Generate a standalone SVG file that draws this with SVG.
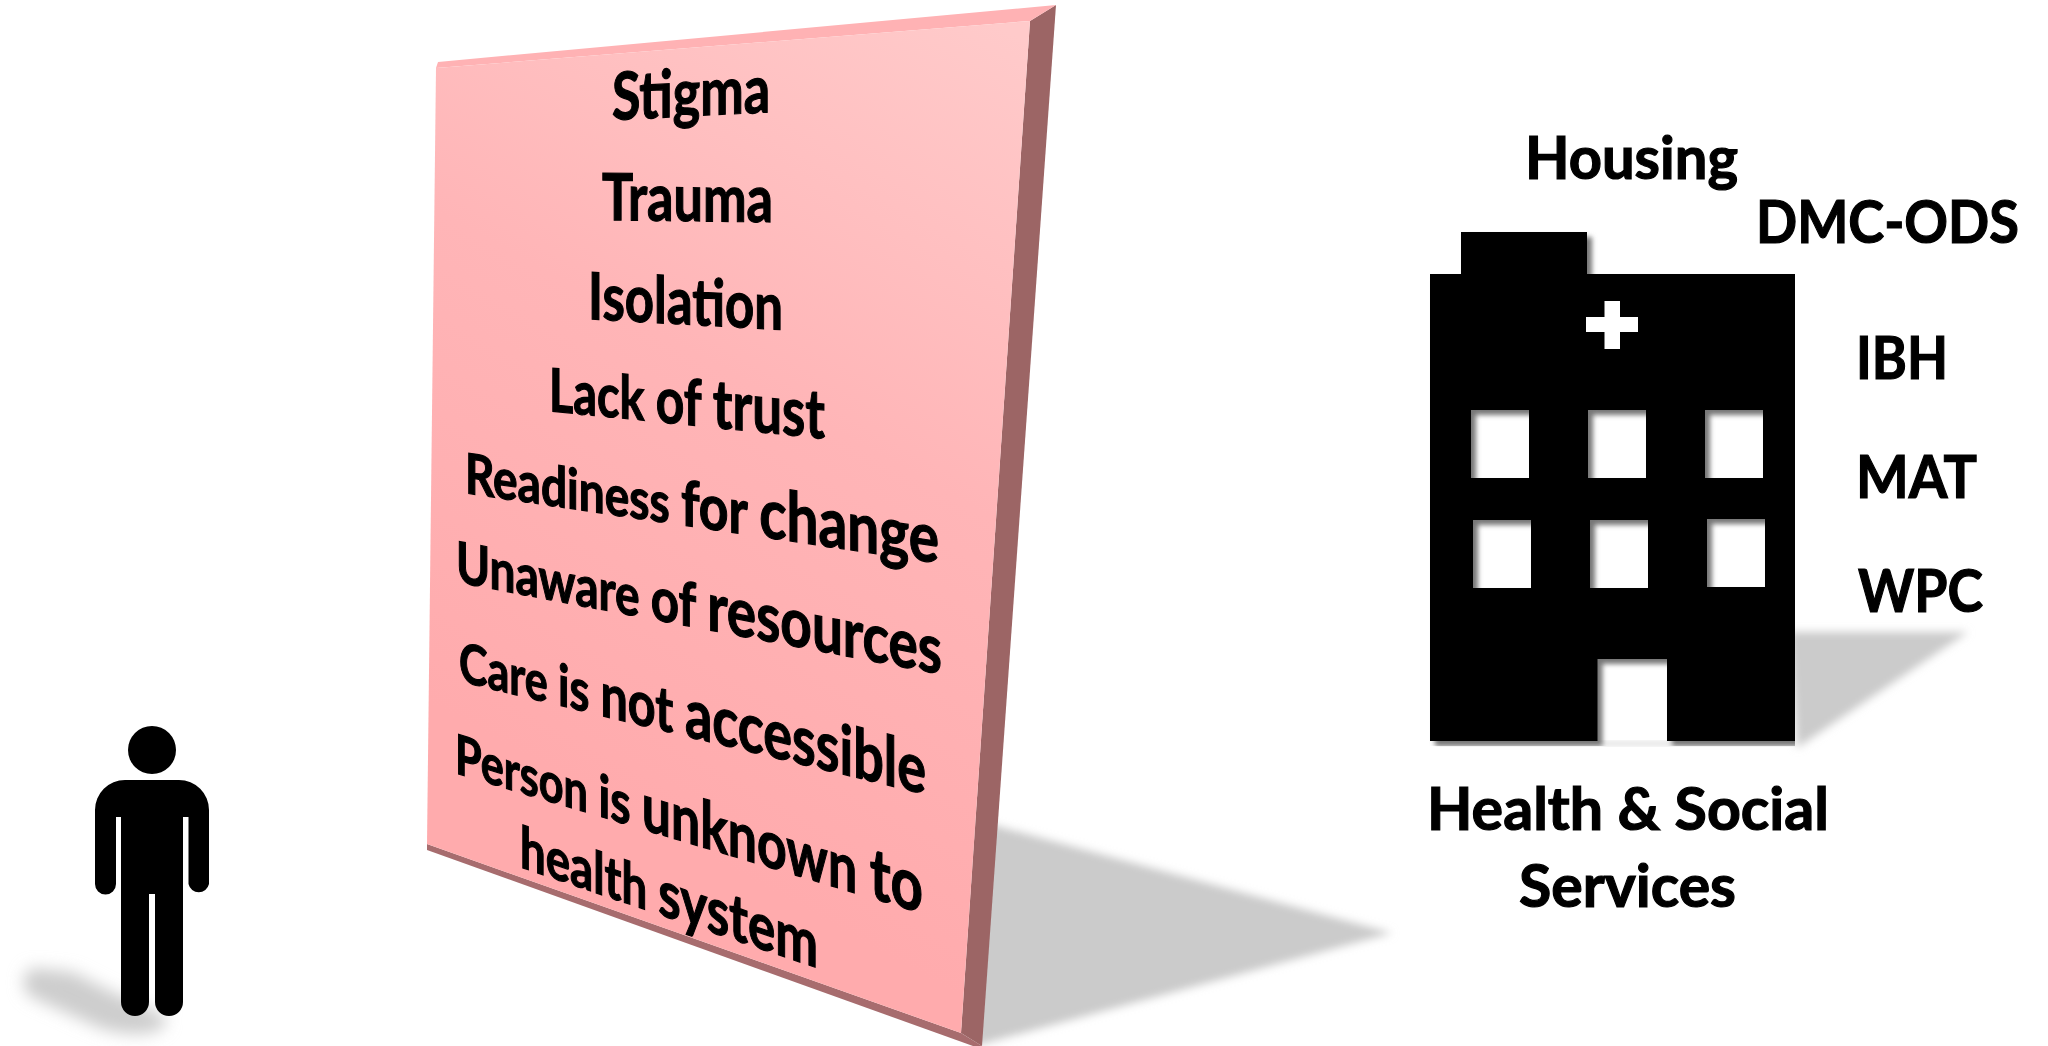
<svg xmlns="http://www.w3.org/2000/svg" width="2048" height="1046" viewBox="0 0 2048 1046">
<style>
text{font-family:"Lato","Liberation Sans",sans-serif;font-weight:700;fill:#000;font-size:60px;stroke:#000;stroke-width:1.200px}
</style>
<defs>
<linearGradient id="face" gradientUnits="userSpaceOnUse" x1="1060" y1="60" x2="640" y2="820">
<stop offset="0" stop-color="#ffcaca"/><stop offset="0.5" stop-color="#ffb5b7"/><stop offset="1" stop-color="#ffabad"/>
</linearGradient>
<filter id="b8" x="-30%" y="-30%" width="160%" height="160%"><feGaussianBlur stdDeviation="8"/></filter>
<filter id="b5" x="-30%" y="-30%" width="160%" height="160%"><feGaussianBlur stdDeviation="4"/></filter>
<filter id="b2" x="-5%" y="-5%" width="110%" height="110%"><feGaussianBlur stdDeviation="2.5"/></filter>
<clipPath id="bclip"><rect x="1420" y="220" width="375" height="526"/></clipPath>
</defs>
<rect width="2048" height="1046" fill="#fff"/>
<g id="person">
<path d="M32 968C18 978 22 994 38 1000L100 1028C140 1040 172 1032 165 1016L112 992L72 972Z" fill="#cdcdcd" filter="url(#b8)"/>
<circle cx="152" cy="750" r="24"/>
<path d="M125 780H179A30 30 0 0 1 209 810V884A10.500 10.500 0 0 1 188.500 884V817H183V1002A14 14 0 0 1 155 1002V894H149V1002A14 14 0 0 1 121 1002V817H116V884A10.500 10.500 0 0 1 95 884V810A30 30 0 0 1 125 780Z"/>
</g>
<g id="barrier">
<path d="M975 820L1392 933L975 1046Z" fill="#cbcbcb" filter="url(#b5)"/>
<path d="M1030 21L1056 5L982 1046L961 1033Z" fill="#9c6565"/>
<path d="M427 844L961 1033L982 1046H973L427 850Z" fill="#a76c6e"/>
<path d="M438 62L1056 5L1030 21L436 68Z" fill="#ffb2b4"/>
<path d="M436 68L1030 21L961 1033L427 844Z" fill="url(#face)"/>
<text transform="matrix(1,-0.05,0,1,612,120)" textLength="158" lengthAdjust="spacingAndGlyphs" style="font-size:66px">Stigma</text>
<text transform="matrix(1,0.012,0,1,602,220)" textLength="171" lengthAdjust="spacingAndGlyphs" style="font-size:65px">Trauma</text>
<text transform="matrix(1,0.055,0,1,588,319)" textLength="195" lengthAdjust="spacingAndGlyphs" style="font-size:65px">Isolation</text>
<text transform="matrix(1,0.1,0,1,549,411)" textLength="276" lengthAdjust="spacingAndGlyphs"><tspan style="font-size:60px">Lack </tspan><tspan style="font-size:64px">of </tspan><tspan style="font-size:68px">trust</tspan></text>
<text transform="matrix(1,0.148,0,1,465,493)" textLength="474" lengthAdjust="spacingAndGlyphs"><tspan style="font-size:56px">Readiness </tspan><tspan style="font-size:63px">for </tspan><tspan style="font-size:69px">change</tspan></text>
<text transform="matrix(1,0.19,0,1,456,582)" textLength="486" lengthAdjust="spacingAndGlyphs"><tspan style="font-size:57px">Unaware </tspan><tspan style="font-size:61px">of </tspan><tspan style="font-size:68px">resources</tspan></text>
<text transform="matrix(1,0.243,0,1,459,681)" textLength="467" lengthAdjust="spacingAndGlyphs"><tspan style="font-size:55px">Care </tspan><tspan style="font-size:58px">is </tspan><tspan style="font-size:62px">not </tspan><tspan style="font-size:69px">accessible</tspan></text>
<text transform="matrix(1,0.3,0,1,455,773)" textLength="468" lengthAdjust="spacingAndGlyphs"><tspan style="font-size:55px">Person </tspan><tspan style="font-size:59px">is </tspan><tspan style="font-size:66px">unknown </tspan><tspan style="font-size:72px">to</tspan></text>
<text transform="matrix(1,0.34,0,1,520,867)" textLength="298" lengthAdjust="spacingAndGlyphs"><tspan style="font-size:58px">health </tspan><tspan style="font-size:65px">system</tspan></text>
</g>
<g id="building">
<path d="M1790 632H1968L1797 748Z" fill="#cbcbcb" filter="url(#b5)"/>
<path d="M1436 741H1795V746H1436Z" fill="#e4e4e4" filter="url(#b2)"/>
<g clip-path="url(#bclip)">
<path id="shade" transform="translate(5,5)" fill="#777" filter="url(#b2)" fill-rule="evenodd" d="M1461 232H1587V274H1795V741H1667V659H1597.500V741H1430V274H1461ZM1471 410V478H1529V410ZM1588 410V478H1646V410ZM1705 410V478H1763V410ZM1473 520V588H1531V520ZM1590 520V588H1648V520ZM1707 519V587H1765V519Z"/>
</g>
<path fill="#000" fill-rule="evenodd" d="M1461 232H1587V274H1795V741H1667V659H1597.500V741H1430V274H1461ZM1471 410V478H1529V410ZM1588 410V478H1646V410ZM1705 410V478H1763V410ZM1473 520V588H1531V520ZM1590 520V588H1648V520ZM1707 519V587H1765V519Z"/>
<path fill="#fff" d="M1604.500 301H1620V317H1638V332H1620V349H1604.500V332H1586V317H1604.500Z"/>
</g>
<g id="labels">
<text x="1525" y="179" textLength="213" lengthAdjust="spacingAndGlyphs">Housing</text>
<text x="1756" y="243" textLength="263" lengthAdjust="spacingAndGlyphs">DMC-ODS</text>
<text x="1856" y="379" textLength="92" lengthAdjust="spacingAndGlyphs">IBH</text>
<text x="1856" y="498" textLength="121" lengthAdjust="spacingAndGlyphs">MAT</text>
<text x="1858" y="612" textLength="125" lengthAdjust="spacingAndGlyphs">WPC</text>
<text x="1427" y="830" textLength="402" lengthAdjust="spacingAndGlyphs">Health &amp; Social</text>
<text x="1519" y="907" textLength="217" lengthAdjust="spacingAndGlyphs">Services</text>
</g>
</svg>
